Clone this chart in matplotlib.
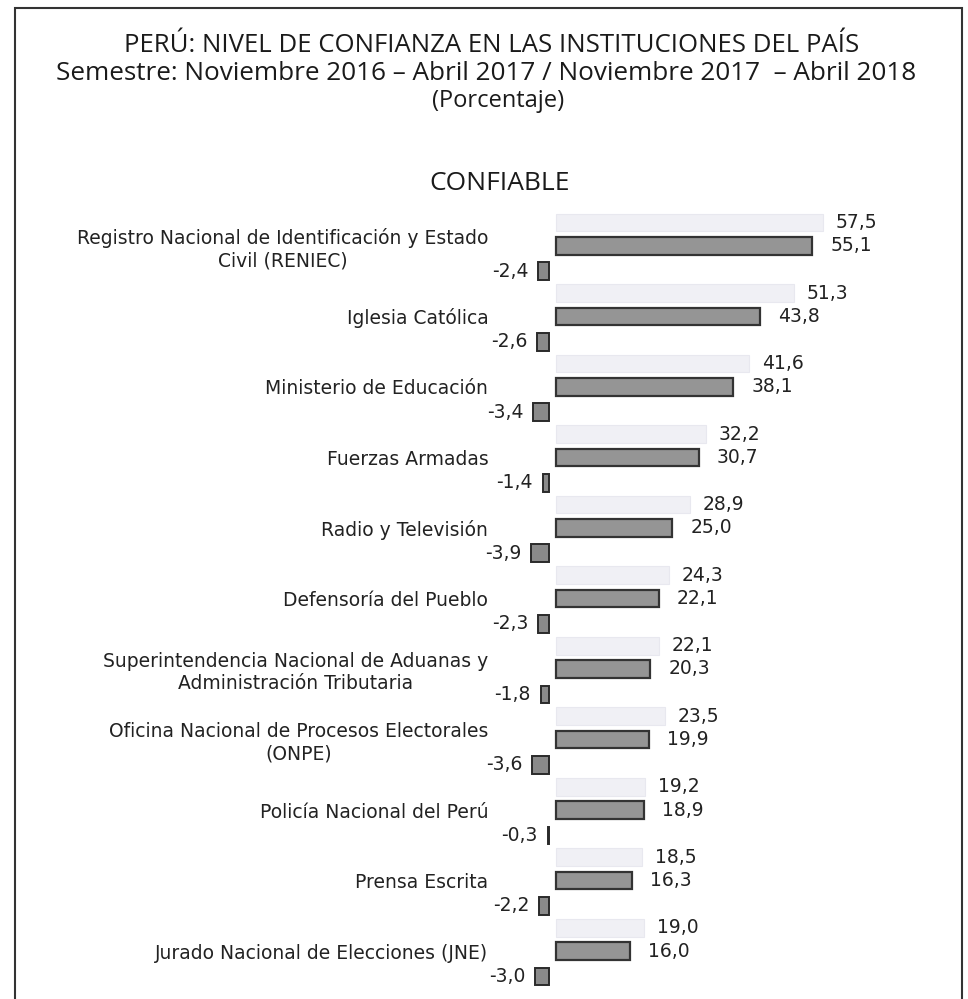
import numpy as np
import matplotlib.pyplot as plt
from matplotlib.patches import Rectangle

instituciones = [
    "Registro Nacional de Identificación y Estado\nCivil (RENIEC)",
    "Iglesia Católica",
    "Ministerio de Educación",
    "Fuerzas Armadas",
    "Radio y Televisión",
    "Defensoría del Pueblo",
    "Superintendencia Nacional de Aduanas y\nAdministración Tributaria",
    "Oficina Nacional de Procesos Electorales\n(ONPE)",
    "Policía Nacional del Perú",
    "Prensa Escrita",
    "Jurado Nacional de Elecciones (JNE)",
]
sem_2016_2017 = [57.5, 51.3, 41.6, 32.2, 28.9, 24.3, 22.1, 23.5, 19.2, 18.5, 19.0]
sem_2017_2018 = [55.1, 43.8, 38.1, 30.7, 25.0, 22.1, 20.3, 19.9, 18.9, 16.3, 16.0]
diferencia = [-2.4, -2.6, -3.4, -1.4, -3.9, -2.3, -1.8, -3.6, -0.3, -2.2, -3.0]


def fmt(v):
    return f"{v:.1f}".replace(".", ",")


fig = plt.figure(figsize=(9.68, 9.99), dpi=100)
fig.patches.append(Rectangle((15 / 968, -0.01), (962 - 15) / 968, 1 - 8 / 999 + 0.01,
                             transform=fig.transFigure, fill=False,
                             edgecolor="#333333", linewidth=1.5))

ax = fig.add_axes([530 / 968, 0.0, 370 / 968, 1 - 200 / 999])

y = np.arange(len(instituciones))
h = 0.25
b1 = ax.barh(y - 0.33, sem_2016_2017, height=h, color="#f0f0f5", edgecolor="#e8e8ef", linewidth=0.8)
b2 = ax.barh(y, sem_2017_2018, height=h, color="#959595", edgecolor="#333333", linewidth=1.6)
# las diferencias se dibujan un poco a la izquierda del inicio de las barras
b3 = ax.barh(y + 0.36, diferencia, left=-1.5, height=h, color="#8a8a8a", edgecolor="#2a2a2a", linewidth=1.4)

lab_font = dict(family="DejaVu Sans", size=13.5, color="#222222")
ax.bar_label(b1, labels=[fmt(v) for v in sem_2016_2017], padding=9, **lab_font)
ax.bar_label(b2, labels=[fmt(v) for v in sem_2017_2018], padding=13, **lab_font)
ax.bar_label(b3, labels=[fmt(v) for v in diferencia], padding=7, **lab_font)

ax.set_xlim(-5.6, 74)
ax.set_ylim(10.68, -0.65)
ax.set_yticks(y, instituciones)
ax.tick_params(axis="y", length=0, pad=30)
for t in ax.get_yticklabels():
    t.set_fontfamily("DejaVu Sans")
    t.set_fontsize(13.5)
    t.set_color("#222222")
    t.set_multialignment("center")
ax.set_xticks([])
for s in ax.spines.values():
    s.set_visible(False)

tfont = dict(family="Open Sans", color="#1a1a1a", ha="center", va="center")
fig.text(492 / 968, 1 - 46 / 999, "PERÚ: NIVEL DE CONFIANZA EN LAS INSTITUCIONES DEL PAÍS", size=18.5, **tfont)
fig.text(486 / 968, 1 - 74 / 999, "Semestre: Noviembre 2016 – Abril 2017 / Noviembre 2017  – Abril 2018", size=18.8, **tfont)
fig.text(498 / 968, 1 - 101 / 999, "(Porcentaje)", size=17, **tfont)
fig.text(500 / 968, 1 - 183 / 999, "CONFIABLE", size=19, **tfont)

fig.savefig("out.png", dpi=100)
